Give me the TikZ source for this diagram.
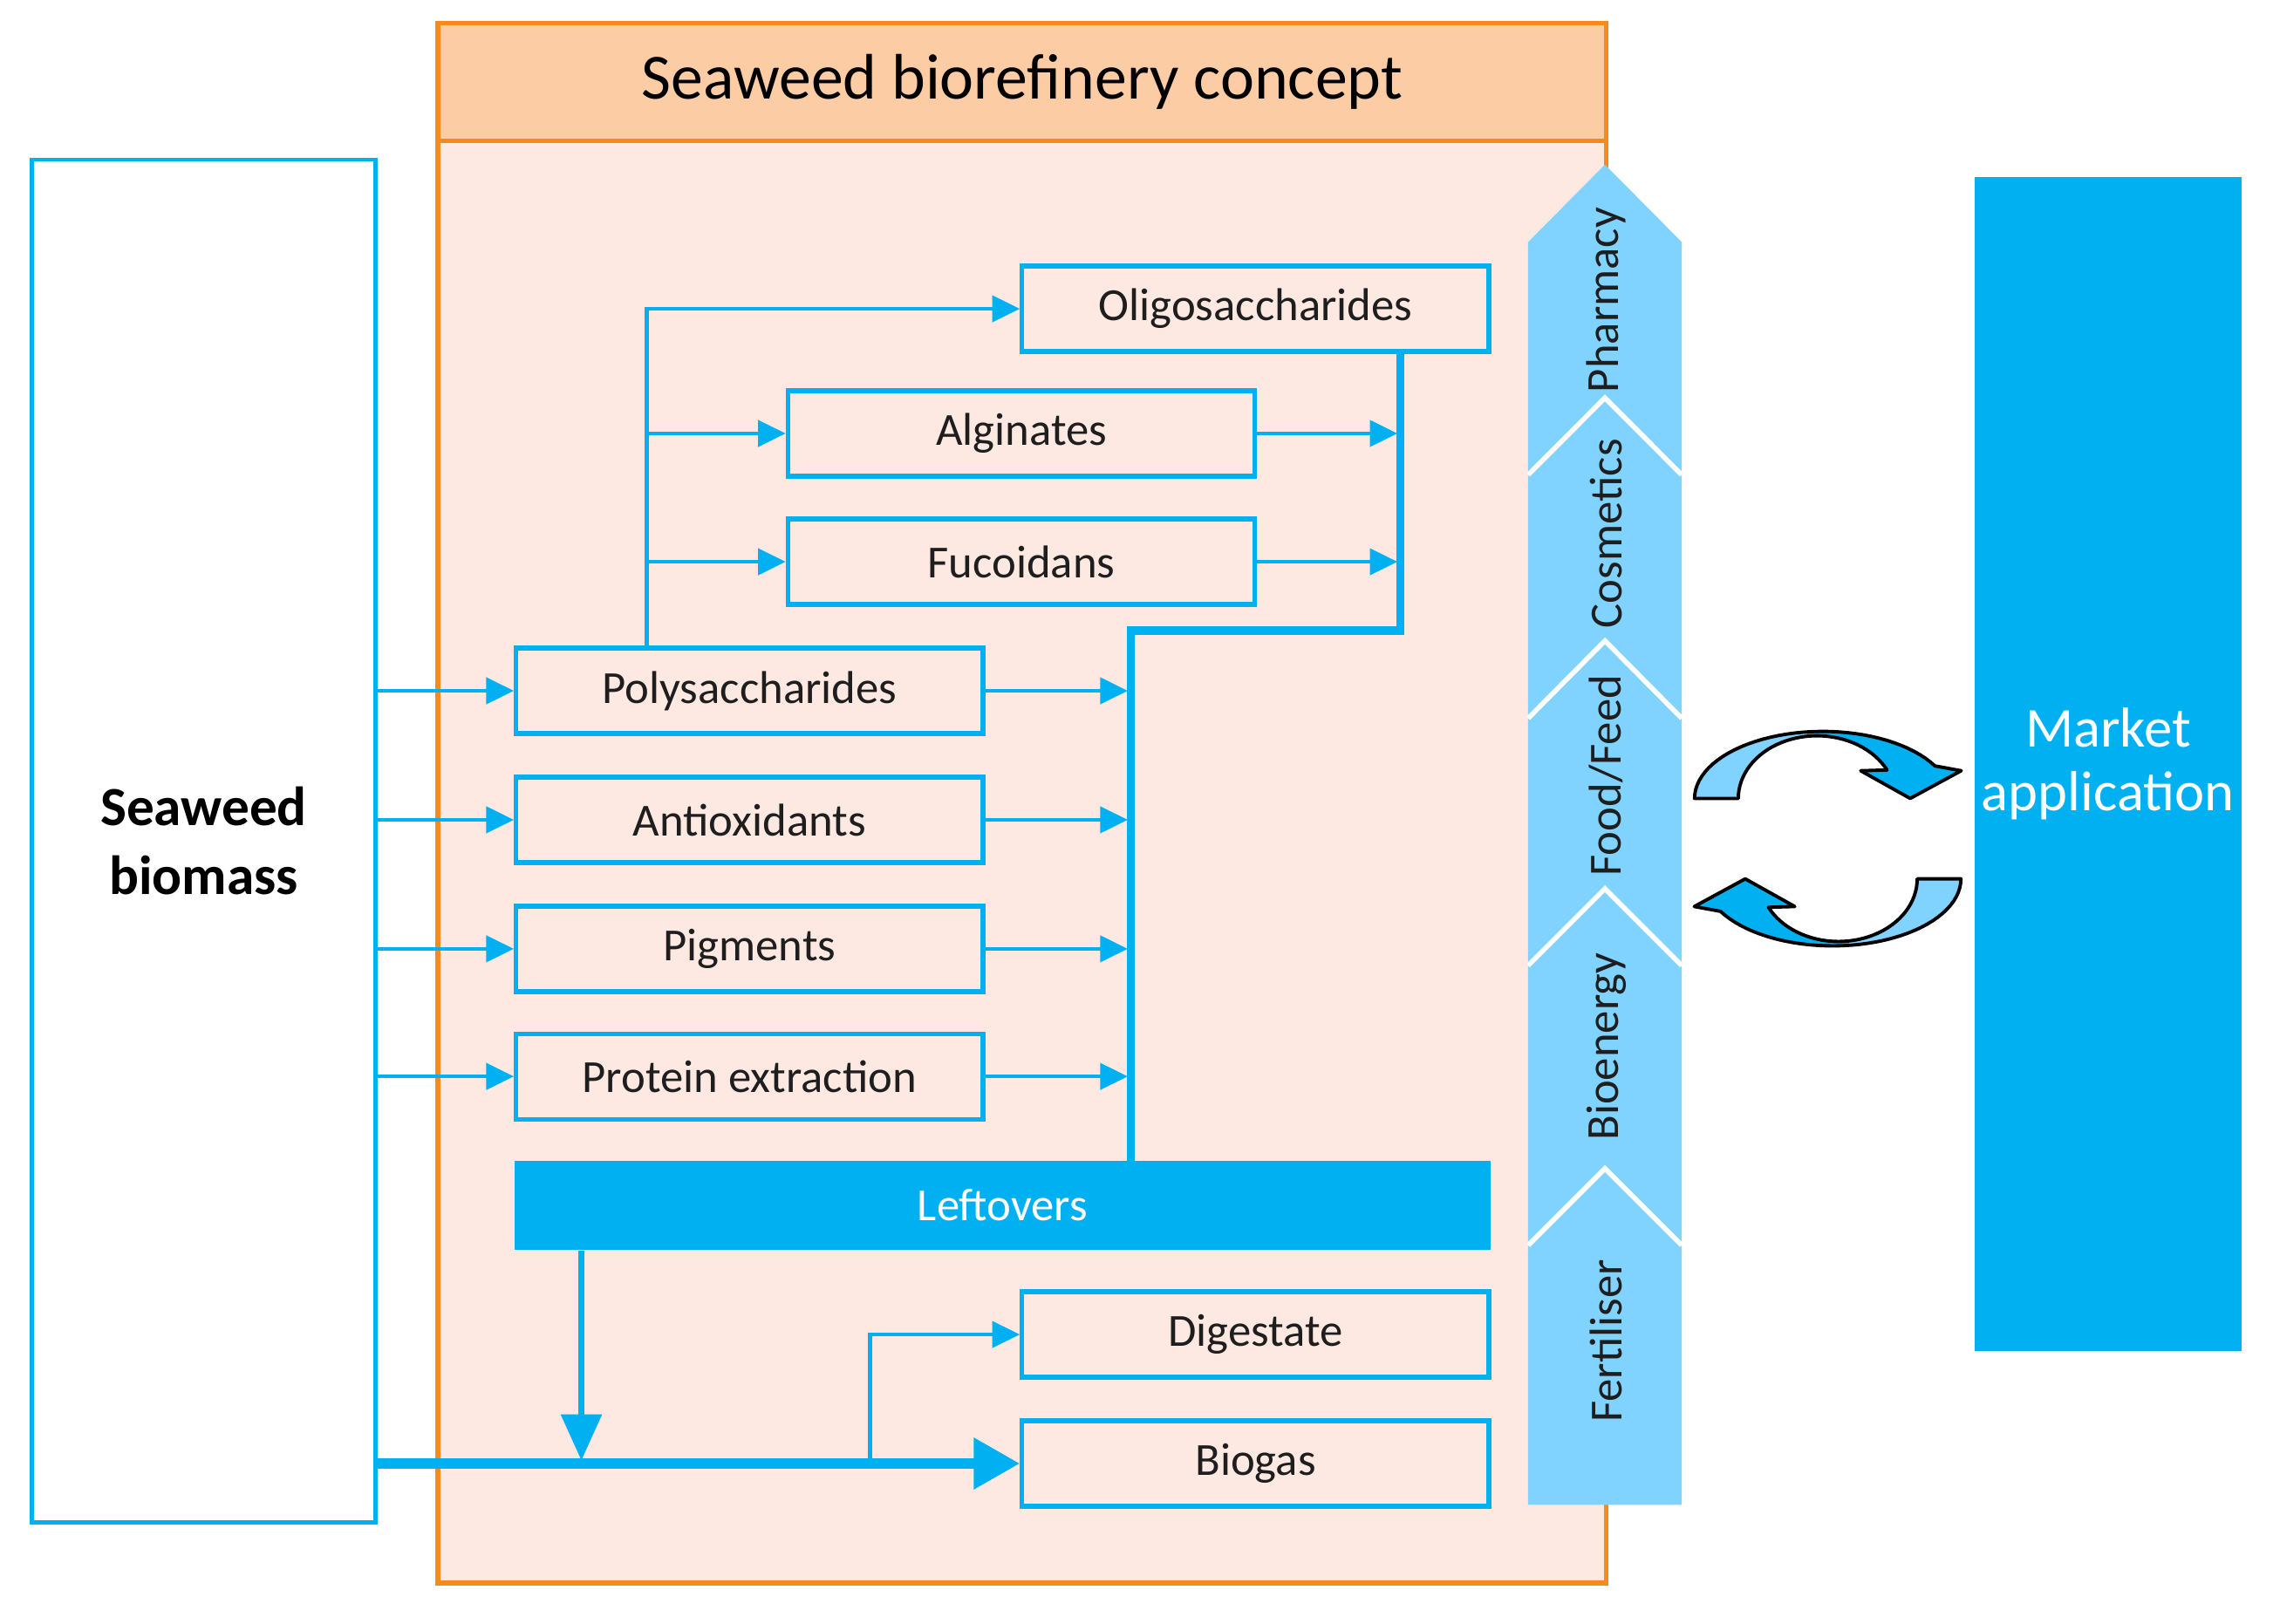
\documentclass[tikz,border=0pt]{standalone}
\usepackage{fontspec}
\setmainfont{Carlito}
\usetikzlibrary{arrows.meta}
\definecolor{cy}{RGB}{0,176,240}
\definecolor{lcy}{RGB}{128,210,255}
\definecolor{orb}{RGB}{245,138,31}
\definecolor{orf}{RGB}{252,205,164}
\definecolor{pinkf}{RGB}{253,233,226}
\definecolor{txt}{RGB}{30,30,30}
\def\u{0.016621cm}
\newcommand{\circarrowshape}{(1163,548) -- plot[domain=180:29,samples=40] ({1251+88*cos(\x)},{548-46*sin(\x)}) -- (1346,529) -- (1311,548) -- (1277,529) -- plot[domain=27:180,samples=40] ({1247+54*cos(\x)},{548-43*sin(\x)}) -- cycle}
\newcommand{\circarrowdraw}{%
  \fill[cy] \circarrowshape;
  \begin{scope}
    \clip (1150,480) rectangle (1240,560);
    \fill[lcy] \circarrowshape;
  \end{scope}
  \draw[black, line width=1.1pt, line join=round] \circarrowshape;}
\begin{document}
\begin{tikzpicture}[x=0.016621cm, y=-0.016621cm,
  box/.style={draw=cy, line width=1.5pt, minimum width=322*\u, minimum height=59*\u, inner sep=0pt, font=\fontsize{15}{18}\selectfont, text=txt},
  conn/.style={draw=cy, line width=1.3pt, -{Triangle[length=9pt,width=8.5pt]}},
  vtext/.style={rotate=90, font=\fontsize{15}{18}\selectfont, text=txt, inner sep=0pt},
  sepline/.style={draw=white, line width=1.6pt}]
\useasboundingbox (0,0) rectangle (1567.8,1120.2);
\fill[white] (0,0) rectangle (1567.8,1120.2);

% frame
\node[draw=orb, fill=pinkf, line width=1.5pt, minimum width=806*\u, minimum height=1076*\u, inner sep=0pt] (frame) at (705,554) {};
\node[draw=orb, fill=orf, line width=1.5pt, minimum width=806*\u, minimum height=81*\u, inner sep=0pt, font=\fontsize{21}{25}\selectfont, text=black] (hdr) at (705,56.5) {Seaweed biorefinery concept};

% biomass and market
\node[draw=cy, fill=white, line width=1.3pt, minimum width=237*\u, minimum height=940*\u, inner sep=0pt, align=center, font=\fontsize{18}{22.3}\selectfont\bfseries, text=black] (biomass) at (140.5,580) {Seaweed\\biomass};
\node[fill=cy, minimum width=184*\u, minimum height=810*\u, inner sep=0pt, align=center, font=\fontsize{18.4}{20.9}\selectfont, text=white] (market) at (1454,527) {Market\\application};

% boxes
\node[box] (oligo) at (866,213) {Oligosaccharides};
\node[box] (alg) at (704.5,299) {Alginates};
\node[box] (fuc) at (704.5,387.5) {Fucoidans};
\node[box] (poly) at (517,476.5) {Polysaccharides};
\node[box] (anti) at (517,565.5) {Antioxidants};
\node[box] (pig) at (517,654.5) {Pigments};
\node[box] (prot) at (517,742.5) {Protein extraction};
\node[fill=cy, minimum width=673*\u, minimum height=61*\u, inner sep=0pt, font=\fontsize{15}{18}\selectfont, text=white] (left) at (691.5,831.5) {Leftovers};
\node[box] (dig) at (866,920.5) {Digestate};
\node[box] (bio) at (866,1009.5) {Biogas};

% chevron arrow
\fill[lcy] (1054,1038) -- (1054,167) -- (1107,113.6) -- (1160,167) -- (1160,1038) -- cycle;
\draw[sepline] (1054,327.6) -- (1107,274.4) -- (1160,327.6);
\draw[sepline] (1054,495.5) -- (1107,442) -- (1160,495.5);
\draw[sepline] (1054,666) -- (1107,613) -- (1160,666);
\draw[sepline] (1054,859) -- (1107,806) -- (1160,859);
\node[vtext] (tph) at (1108,207) {Pharmacy};
\node[vtext] (tco) at (1108,368) {Cosmetics};
\node[vtext] (tfo) at (1108,535) {Food/Feed};
\node[vtext] (tbe) at (1108,722) {Bioenergy};
\node[vtext] (tfe) at (1108,925) {Fertiliser};

% circular arrows
\begin{scope}[scale=1.005]
\circarrowdraw
\begin{scope}[rotate around={180:(1254.4,575.6)}]
\circarrowdraw
\end{scope}
\end{scope}

% connectors from biomass
\draw[conn] (biomass.east |- poly.west) -- (poly.west);
\draw[conn] (biomass.east |- anti.west) -- (anti.west);
\draw[conn] (biomass.east |- pig.west) -- (pig.west);
\draw[conn] (biomass.east |- prot.west) -- (prot.west);

% polysaccharide branches
\coordinate (vx) at (446,0);
\draw[conn] (vx |- poly.north) -- (vx |- oligo.west) -- (oligo.west);
\draw[conn] (vx |- alg.west) -- (alg.west);
\draw[conn] (vx |- fuc.west) -- (fuc.west);

% collector
\coordinate (cx1) at (966,0);
\coordinate (cx2) at (780,0);
\coordinate (cy1) at (0,435);
\draw[cy, line width=2.6pt, line join=miter] (cx1 |- oligo.south) -- (cx1 |- cy1) -- (cx2 |- cy1) -- (cx2 |- left.north);
\draw[conn] (alg.east) -- ([xshift=-1pt]cx1 |- alg.east);
\draw[conn] (fuc.east) -- ([xshift=-1pt]cx1 |- fuc.east);
\draw[conn] (poly.east) -- ([xshift=-1pt]cx2 |- poly.east);
\draw[conn] (anti.east) -- ([xshift=-1pt]cx2 |- anti.east);
\draw[conn] (pig.east) -- ([xshift=-1pt]cx2 |- pig.east);
\draw[conn] (prot.east) -- ([xshift=-1pt]cx2 |- prot.east);

% bottom
\coordinate (dx) at (401,0);
\coordinate (gx) at (600,0);
\draw[cy, line width=3.3pt, -{Triangle[length=15pt,width=16pt]}] (biomass.east |- bio.west) -- (bio.west);
\draw[cy, line width=1.9pt, -{Triangle[length=15pt,width=13pt]}] (dx |- left.south) -- ([yshift=1pt]dx |- bio.west);
\draw[conn] (gx |- bio.west) -- (gx |- dig.west) -- (dig.west);
\end{tikzpicture}
\end{document}
